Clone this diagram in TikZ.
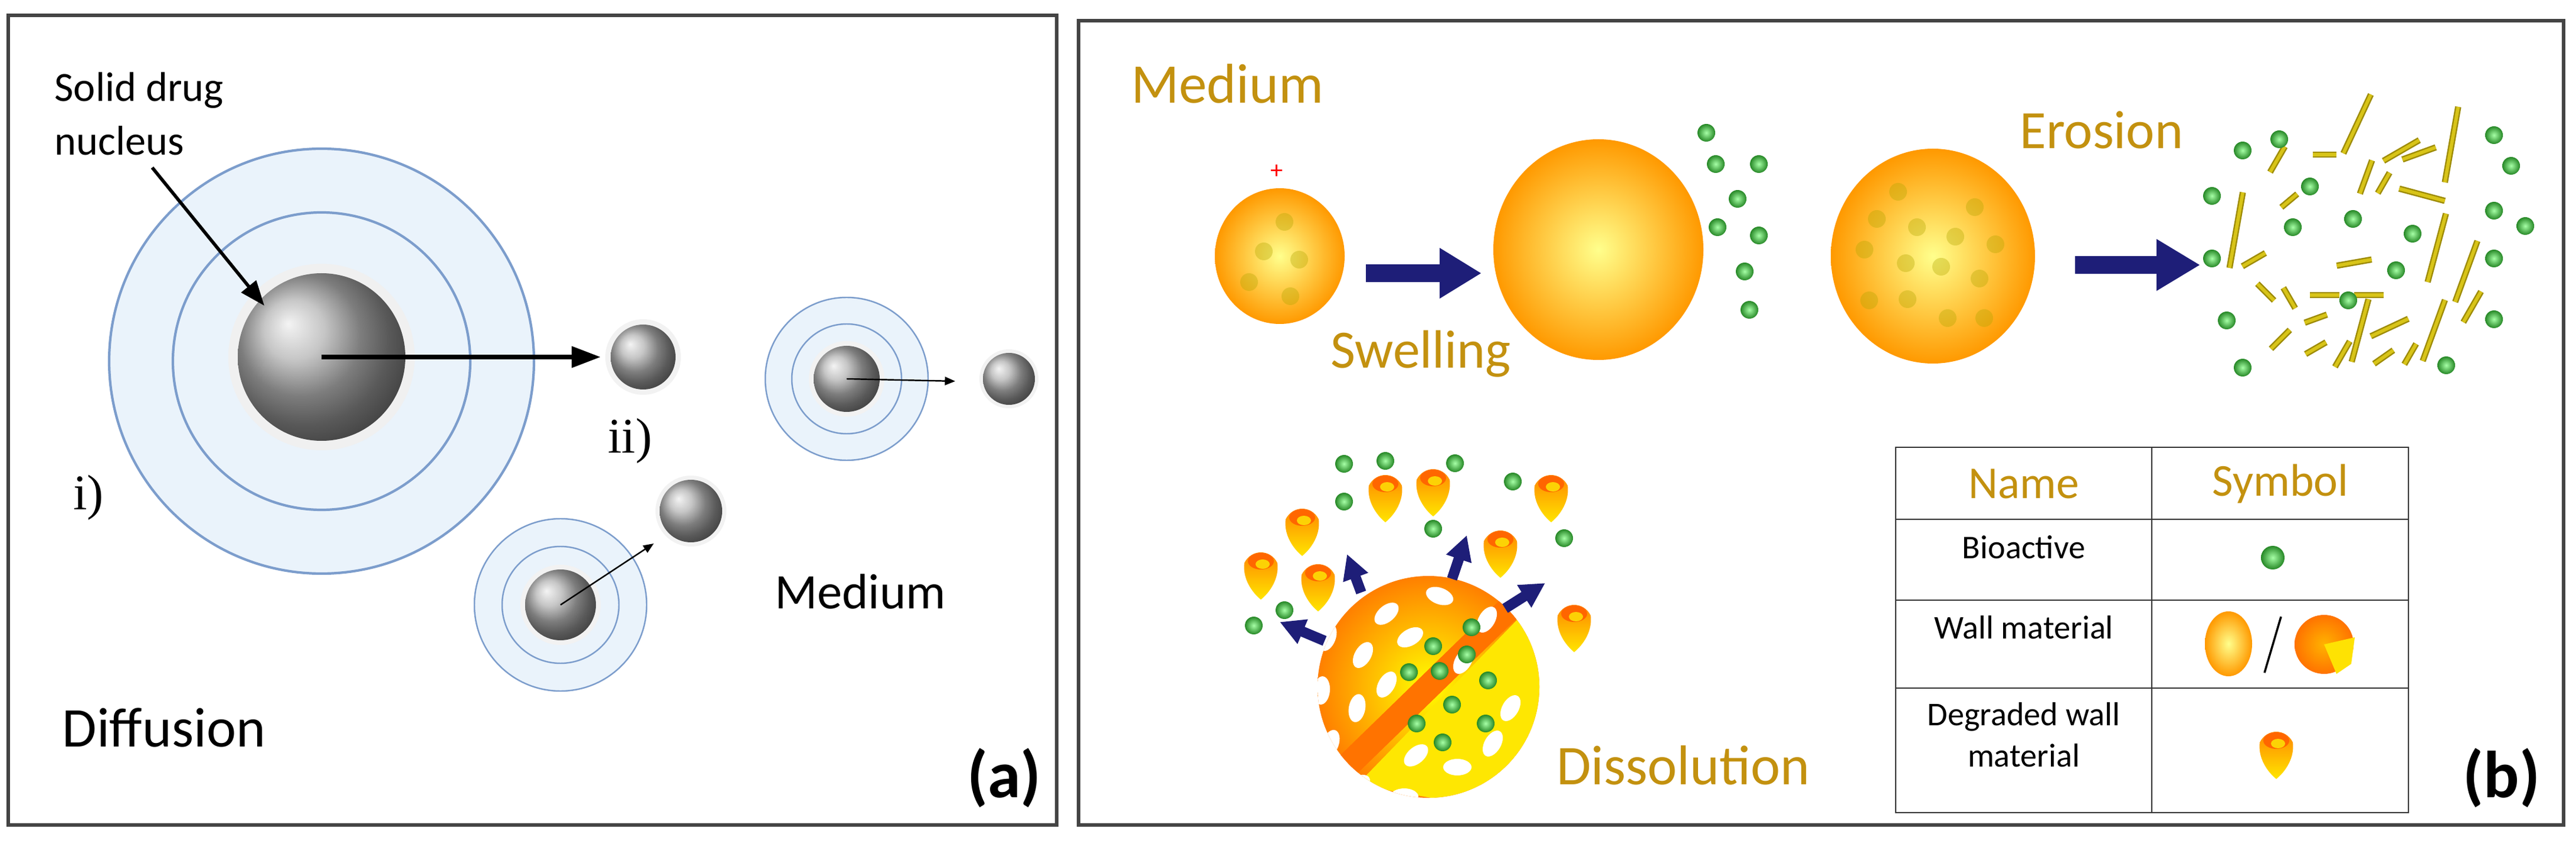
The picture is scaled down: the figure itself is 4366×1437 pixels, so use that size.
\documentclass[tikz,border=0pt]{standalone}
\usepackage{fontspec}
\setmainfont{Carlito}
\newfontfamily\serifx{Liberation Serif}
\usetikzlibrary{calc,arrows.meta}
\definecolor{goldt}{HTML}{C3910F}
\definecolor{navyA}{HTML}{1E1E78}
\definecolor{ringf}{HTML}{EAF3FB}
\definecolor{ringd}{HTML}{7C9DCC}
\definecolor{frame}{HTML}{444444}
\definecolor{stickc}{HTML}{D8C418}
\definecolor{stickd}{HTML}{9E8C08}
\tikzset{
  gtxt/.style={text=goldt,inner sep=0pt},
  gdot/.style={shading=radial,inner color=green!35!white,outer color=green!45!black!85},
  ysph/.style={shading=radial,inner color=yellow!45!white,outer color=orange!80!yellow},
  fdot/.style={fill=olive!70!yellow,opacity=0.35},
  ring/.style={fill=ringf,draw=ringd,line width=1.2pt},
  ringin/.style={draw=ringd,line width=1.2pt},
  gball/.style={ball color=gray!60},
  pics/shell/.style={code={
    \shade[top color=orange,bottom color=yellow!80!orange] (-28,-16) .. controls (-32,16) and (-8,40) .. (0,46) .. controls (8,40) and (32,16) .. (28,-16) .. controls (16,-40) and (-16,-40) .. cycle;
    \fill[orange!80!red] (0,-19) ellipse (22 and 14);
    \fill[yellow!70!orange] (3,-14) ellipse (12 and 8);}},
  bluearrow/.style={fill=navyA},
}
\begin{document}
\begin{tikzpicture}[x=0.01cm,y=-0.01cm]
\fill[white] (0,0) rectangle (4366,1437);
\useasboundingbox (0,0) rectangle (4366,1437);
% ---------- panel a ----------
\draw[frame,line width=1.8pt] (14,26) rectangle (1791,1398);
\coordinate (bigc) at (545,612);
\draw[ring] (bigc) circle (360);
\draw[ringin] (bigc) circle (252);
\fill[gray!12] (545,605) circle (158);
\shade[gball] (545,605) circle (142);
\coordinate (bigs) at (545,605);
\coordinate (s2) at (1090,605);
\fill[gray!10] (s2) circle (64);
\shade[gball] (s2) circle (55);
\draw[line width=2pt,-{Triangle[length=14pt,width=10pt]}] (bigs) -- ($(s2)+(-72,0)$);
\node[font=\fontsize{20}{26}\selectfont,align=left,anchor=north west,inner sep=0pt] (sdn) at (92,122) {Solid drug\\nucleus};
\coordinate (sdnarr) at (258,284);
\draw[line width=1.6pt,-{Triangle[length=12pt,width=9pt]}] (sdnarr) -- (448,518);
\node[font=\serifx\fontsize{24}{26}\selectfont] (li) at (150,843) {i)};
\node[font=\serifx\fontsize{24}{26}\selectfont] (lii) at (1068,747) {ii)};
% right cluster
\coordinate (rc) at (1435,642);
\draw[ring,line width=0.7pt] (rc) circle (138);
\draw[ringin,line width=0.7pt] (rc) circle (93);
\fill[gray!10] (rc) circle (64);
\shade[gball] (rc) circle (56);
\coordinate (r2) at (1710,642);
\fill[gray!10] (r2) circle (50);
\shade[gball] (r2) circle (44);
\draw[line width=0.7pt,-{Triangle[length=5pt,width=4pt]}] (rc) -- (1619,646);
% lower cluster
\coordinate (lc) at (950,1025);
\draw[ring,line width=0.7pt] (lc) circle (146);
\draw[ringin,line width=0.7pt] (lc) circle (99);
\fill[gray!10] (lc) circle (68);
\shade[gball] (lc) circle (60);
\coordinate (l2) at (1171,866);
\fill[gray!10] (l2) circle (60);
\shade[gball] (l2) circle (53);
\draw[line width=0.7pt,-{Triangle[length=5pt,width=4pt]}] (lc) -- (1108,921);
\node[font=\fontsize{24}{28}\selectfont] (medA) at (1458,1003) {Medium};
\node[font=\fontsize{27}{30}\selectfont] (diff) at (278,1233) {Diffusion};
\node[font=\bfseries\fontsize{32}{36}\selectfont] (pa) at (1702,1318) {(a)};
% ---------- panel b ----------
\draw[frame,line width=1.8pt] (1828,35) rectangle (4345,1398);
\node[gtxt,font=\fontsize{27}{30}\selectfont] (medB) at (2080,142) {Medium};
\node[text=red,font=\fontsize{12}{12}\selectfont,inner sep=0pt] (plus) at (2164,291) {+};
\shade[ysph] (2169,434) ellipse (110 and 115);
\foreach \p in {(2177,376),(2142,426),(2202,440),(2117,478),(2187,502)} \fill[fdot] \p circle (15);
\fill[bluearrow] (2315,448) -- (2440,448) -- (2440,420) -- (2510,463) -- (2440,506) -- (2440,478) -- (2315,478) -- cycle;
\shade[ysph] (2709,423) ellipse (178 and 187);
\foreach \p in {(2892,225),(2908,278),(2981,278),(2945,337),(2911,385),(2981,399),(2957,460),(2965,525)} \shade[gdot] \p circle (15);
\node[gtxt,font=\fontsize{26}{30}\selectfont] (swell) at (2408,600) {Swelling};
\shade[ysph] (3276,434) ellipse (173 and 182);
\foreach \p in {(3217,325),(3347,351),(3181,371),(3249,385),(3314,401),(3382,414),(3160,423),(3230,446),(3290,452),(3355,472),(3168,509),(3233,507),(3301,539),(3363,539)} \fill[fdot] \p circle (15);
\node[gtxt,font=\fontsize{26}{30}\selectfont] (eros) at (3562,220) {Erosion};
\fill[bluearrow] (3517,434) -- (3655,434) -- (3655,405) -- (3728,449) -- (3655,493) -- (3655,464) -- (3517,464) -- cycle;
\foreach \x/\y/\a/\l in {3995/210/-65/110,4155/245/-80/130,4070/255/-30/70,3940/262/0/40,4010/300/-70/60,4105/330/15/80,4040/310/-60/40,3860/270/-60/50,3880/340/-40/35,3790/390/-80/130,3820/440/-30/45,3990/445/-10/60,4130/420/-75/120,4180/460/-70/110,3840/495/45/40,3880/505/60/40,3925/540/-20/40,4015/500/0/50,4000/560/-75/110,4050/555/-25/70,4125/560/-70/110,3865/575/-45/45,3925/590/-30/40,3970/600/-60/50,4040/605/-35/40,4085/600/-60/40,4190/520/-60/60,3940/500/0/50,4100/260/-20/60}
  {\draw[stickd,line width=3pt] (\x,\y) ++(\a:-\l/2) -- ++(\a:\l);
   \draw[stickc,line width=1.6pt] (\x,\y) ++(\a:-\l/2) -- ++(\a:\l);}
\foreach \p in {(3801,255),(3863,236),(3915,316),(3749,332),(3886,385),(3988,371),(4089,396),(3749,438),(4061,458),(3980,509),(3774,543),(3801,623),(4146,619),(4227,541),(4227,438),(4227,357),(4280,383),(4256,281),(4227,229)} \shade[gdot] \p circle (15);
% dissolution
\begin{scope}
\clip (2421,1164) circle (188);
\shade[shading=radial,inner color=yellow,outer color=orange] (2421,1164) circle (188);
\fill[yellow!90!orange] (2620,1000) -- (2300,1330) -- (2700,1400) -- cycle;
\draw[orange!90!red,line width=12pt] (2600,990) -- (2240,1340);
\foreach \p/\a in {(2300,1000)/20,(2250,1080)/70,(2240,1170)/85,(2255,1260)/70,(2300,1330)/30,(2380,1350)/0,(2350,1040)/40,(2310,1110)/60,(2300,1200)/80,(2440,1010)/-20,(2390,1080)/30,(2350,1160)/60,(2520,1050)/60,(2480,1120)/60,(2560,1200)/60,(2530,1260)/60,(2470,1300)/0,(2400,1280)/40}
  \fill[white] \p ellipse[x radius=24,y radius=14,rotate=\a];
\end{scope}
\foreach \p in {(2494,1063),(2429,1095),(2486,1109),(2388,1139),(2440,1137),(2522,1153),(2461,1194),(2401,1226),(2518,1226),(2445,1258)} \shade[gdot] \p circle (15);
\foreach \s/\e in {{(2307,1004)}/{(2283,939)},{(2461,981)}/{(2486,907)},{(2551,1031)}/{(2619,988)},{(2245,1086)}/{(2169,1054)}}
  \draw[navyA,line width=5pt,-{Triangle[length=12pt,width=12pt]}] \s -- \e;
\foreach \p in {(2278,786),(2348,781),(2466,785),(2564,816),(2278,850),(2429,896),(2651,912),(2177,1034),(2125,1060)} \shade[gdot] \p circle (15);
\foreach \p in {(2348,839),(2429,829),(2629,839),(2207,896),(2543,933),(2137,970),(2234,990),(2668,1059)} \pic at \p {shell};
\node[gtxt,font=\fontsize{27}{30}\selectfont] (diss) at (2853,1297) {Dissolution};
% table
\draw[black!80,line width=0.8pt] (3213,758) rectangle (4082,1377);
\draw[black!80,line width=0.8pt] (3647,758) -- (3647,1377);
\foreach \y in {880,1017,1166} \draw[black!80,line width=0.8pt] (3213,\y) -- (4082,\y);
\node[gtxt,font=\fontsize{22}{26}\selectfont] (tn) at (3430,820) {Name};
\node[gtxt,font=\fontsize{22}{26}\selectfont] (ts) at (3865,820) {Symbol};
\node[font=\fontsize{16}{20}\selectfont,inner sep=0pt] (tb) at (3430,927) {Bioactive};
\shade[gdot] (3852,945) circle (20);
\node[font=\fontsize{16}{20}\selectfont,inner sep=0pt] (tw) at (3430,1063) {Wall material};
\shade[ysph] (3777,1091) ellipse (40 and 55);
\draw[black,line width=1pt] (3866,1045) -- (3838,1140);
\shade[shading=radial,inner color=orange!60!yellow,outer color=orange!90!red] (3939,1092) circle (50);
\fill[yellow!85!orange] (3939,1092) -- (3991,1080) -- (3985,1125) -- (3960,1142) -- cycle;
\node[font=\fontsize{16}{20}\selectfont,align=center,inner sep=0pt] (td) at (3430,1245) {Degraded wall\\material};
\pic at (3858,1274) {shell};
\node[font=\bfseries\fontsize{32}{36}\selectfont] (pb) at (4240,1318) {(b)};
\end{tikzpicture}
\end{document}
